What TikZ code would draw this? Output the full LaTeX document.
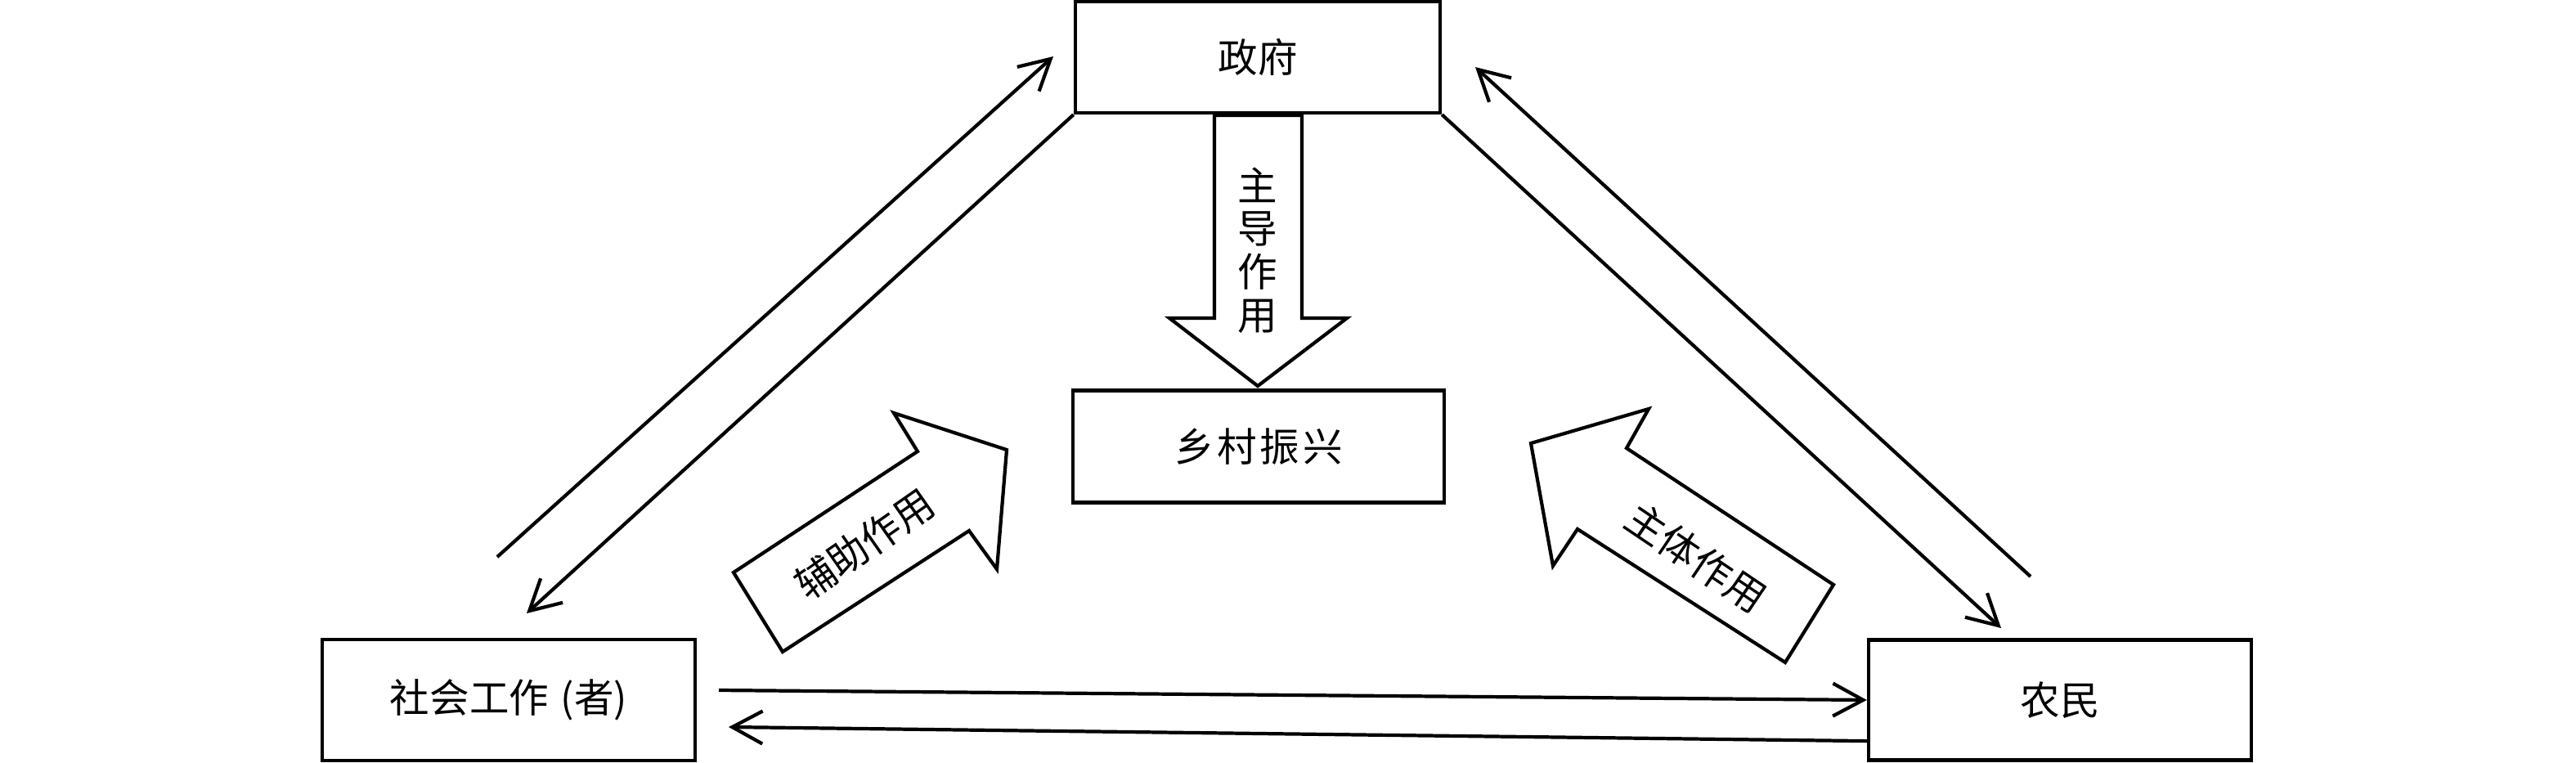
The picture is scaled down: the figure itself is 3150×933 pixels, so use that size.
\documentclass[tikz,border=0pt]{standalone}
\usepackage{fontspec}
\setmainfont{Noto Sans CJK SC}
\usetikzlibrary{arrows.meta}
\begin{document}
\begin{tikzpicture}[x=0.01cm,y=-0.01cm,line width=1.2pt,
  box/.style={draw,inner sep=0pt,font=\fontsize{13.8pt}{16pt}\selectfont},
  conn/.style={-{Straight Barb[length=3.7mm,width=4mm]}},
  blockarrow/.style={draw,fill=white,line join=miter},
  lbl/.style={font=\fontsize{13.8pt}{15pt}\selectfont,inner sep=0pt}]
\useasboundingbox (0,0) rectangle (3150,933);
% boxes
\node[box,minimum width=4.46cm,minimum height=1.36cm] (gov) at (1538,70) {政府};
\node[box,minimum width=4.54cm,minimum height=1.37cm] (rural) at (1539,546) {乡\hspace{0.08em}村\hspace{0.08em}振\hspace{0.08em}兴};
\node[box,minimum width=4.56cm,minimum height=1.48cm] (social) at (622,856) {社会工作\hspace{0.3em}(者)};
\node[box,minimum width=4.68cm,minimum height=1.47cm] (farmer) at (2519,856) {农民};
% connectors
\coordinate (a1) at (608,681);
\coordinate (a2) at (1288,69);
\draw[conn] (a1) -- (a2);
\coordinate (b2) at (644,750);
\draw[conn] (gov.south west) -- (b2);
\coordinate (c2) at (2447,768);
\draw[conn] (gov.south east) -- (c2);
\coordinate (d1) at (2483,705);
\coordinate (d2) at (1804,82);
\draw[conn] (d1) -- (d2);
\coordinate (e1) at (879,844);
\draw[conn] (e1) -- (farmer.west);
\coordinate (f2) at (891,889);
\draw[conn] ([yshift=0.255cm]farmer.south west) -- (f2);
% block arrow: 主导作用
\draw[blockarrow] (1485,141) -- (1592,141) -- (1592,389) -- (1647,389) -- (1538,472) -- (1430,389) -- (1485,389) -- cycle;
\node[lbl,align=center] (t1) at (1538,306) {主\\导\\作\\用};
% block arrow: 辅助作用
\draw[blockarrow] (897,700) -- (1122,552) -- (1093,505) -- (1231,550) -- (1219,696) -- (1185,649) -- (957,797) -- cycle;
\node[lbl,rotate=35] (t2) at (1057,665) {辅助作用};
% block arrow: 主体作用
\draw[blockarrow] (1872,542) -- (2016,500) -- (1989,548) -- (2242,715) -- (2183,810) -- (1929,647) -- (1899,692) -- cycle;
\node[lbl,rotate=-34] (t3) at (2074,682) {主体作用};
\end{tikzpicture}
\end{document}
